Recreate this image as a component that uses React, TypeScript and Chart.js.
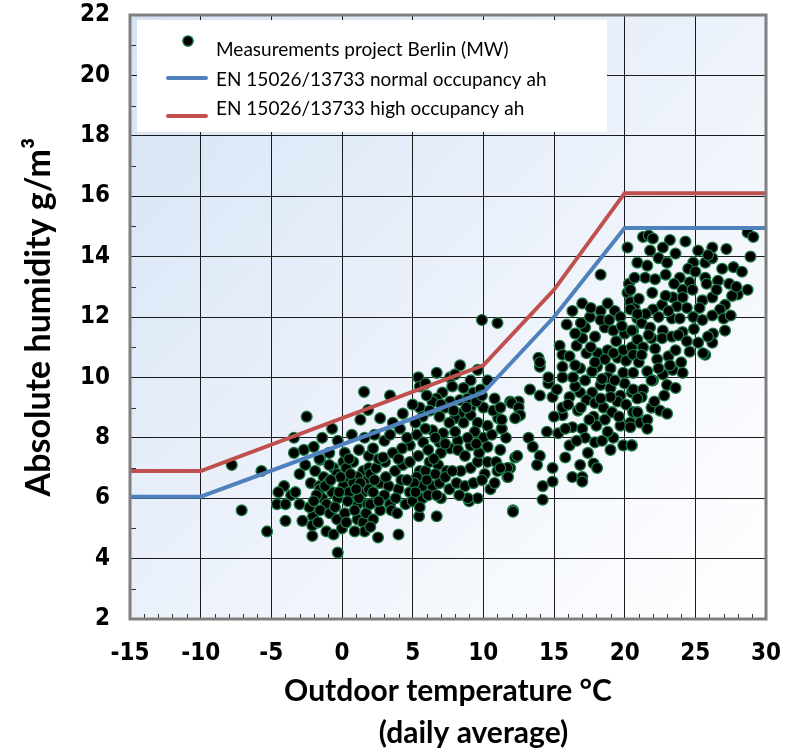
import React, { useEffect, useRef } from 'react';
import { Chart, registerables } from 'chart.js';

Chart.register(...registerables);

const X_MIN = -15;
const X_MAX = 30;
const Y_MIN = 2;
const Y_MAX = 22;

const seriesLabels = [
  'Measurements project Berlin (MW)',
  'EN 15026/13733 normal occupancy ah',
  'EN 15026/13733 high occupancy ah',
];

const normalTemp = [-15, -10, 10, 15, 20, 30];
const normalAh = [6.05, 6.05, 9.5, 12.0, 14.95, 14.95];
const highTemp = [-15, -10, 10, 15, 20, 30];
const highAh = [6.9, 6.9, 10.4, 12.9, 16.1, 16.1];

const xTitle = ['Outdoor temperature °C', '       (daily average)'];
const yTitle = 'Absolute humidity g/m³';

// [outdoor temperature °C, absolute humidity g/m³]
const measurements: [number, number][] = [
  [-7.8, 7.1], [-7.1, 5.6], [-5.7, 6.9], [-5.3, 4.9], [-2.5, 8.7], [-3.4, 8.0], [-2.7, 7.6],
  [-4.1, 6.4], [-4.5, 6.2], [-3.6, 6.1], [-3.3, 6.2], [-4.6, 5.8], [-4.0, 5.8], [-3.0, 5.8],
  [-4.0, 5.25], [-2.8, 5.25], [-3.0, 6.8], [-2.2, 6.5], [-1.6, 6.4], [-3.4, 7.5],
  [-2.05, 5.4], [-2.1, 5.1], [-2.1, 4.75], [-1.1, 4.9], [-0.6, 4.8], [-0.3, 4.2], [-2.3, 5.7],
  [-1.55, 7.27], [-0.6, 7.0], [0.1, 7.2], [0.8, 7.2], [1.5, 6.9], [-1.3, 6.7], [-0.35, 6.8],
  [0.4, 6.6], [1.1, 6.7], [1.8, 6.6], [-1.55, 6.3], [-0.7, 6.2], [0.1, 6.4], [0.8, 6.5],
  [1.4, 6.2], [-1.4, 6.0], [-1.1, 5.8], [-0.3, 6.0], [0.7, 6.0], [1.1, 5.8], [1.5, 6.2],
  [-1.55, 5.6], [-0.85, 5.5], [-0.35, 5.3], [0.2, 5.5], [1.1, 5.3], [1.5, 5.2],
  [-1.9, 6.9], [-1.0, 6.5], [-0.1, 6.7], [0.5, 6.2], [1.2, 6.0], [1.9, 6.3], [-0.5, 5.7],
  [0.4, 5.9], [-1.8, 6.1], [0.9, 5.6], [1.8, 5.8], [1.3, 6.5], [-0.9, 7.1], [0.3, 7.0],
  [1.9, 7.0], [-2.0, 5.9], [0.0, 5.0], [1.6, 4.9],
  [-0.2, 6.2], [0.6, 6.8], [1.0, 6.3], [-1.2, 6.4], [0.3, 5.2], [-0.8, 6.6], [1.7, 5.5],
  [-1.7, 5.2], [0.9, 4.9],
  [-2.0, 7.7], [-1.4, 8.0], [-0.9, 7.5], [-0.3, 7.9], [0.2, 7.5], [0.7, 8.1], [1.2, 7.6],
  [1.6, 8.0], [1.9, 7.4], [-2.6, 7.1], [-1.6, 7.3], [0.5, 7.3], [2.3, 8.1], [3.0, 7.9],
  [3.6, 8.5], [4.3, 8.8], [1.3, 8.6], [-0.7, 8.3], [1.56, 9.52], [1.84, 8.92], [3.4, 9.4],
  [2.55, 4.7], [4.0, 4.8], [5.45, 5.4], [6.7, 5.4], [9.0, 5.9], [12.1, 5.6], [2.2, 5.3], [2.0, 5.05],
  [2.2, 6.2], [2.7, 6.5], [3.3, 6.4], [3.4, 5.8], [2.7, 5.6], [3.5, 5.6], [4.0, 6.3], [4.5, 5.8],
  [4.8, 6.2], [5.0, 5.9], [5.7, 6.0], [5.7, 6.4], [6.4, 6.4], [6.9, 6.5], [7.6, 6.3], [8.1, 6.5],
  [8.7, 6.4], [9.3, 6.5], [9.6, 6.0], [10.1, 6.8], [10.5, 6.3], [11.0, 6.9], [11.7, 6.7], [11.9, 7.0],
  [3.05, 7.2], [3.75, 6.9], [4.3, 7.1], [5.5, 6.9], [5.9, 6.9], [6.2, 7.2], [6.8, 7.1], [7.4, 6.9],
  [9.1, 7.0], [9.6, 7.2], [10.3, 7.2], [4.8, 7.2], [5.3, 6.7], [6.6, 6.8], [7.3, 6.7], [2.0, 5.8],
  [2.0, 6.8], [2.4, 7.0], [3.0, 6.1], [3.9, 5.5], [4.2, 6.6], [5.1, 6.5], [5.5, 5.7], [6.1, 6.1],
  [7.0, 6.0], [8.4, 6.9], [8.9, 6.0], [10.8, 6.5], [2.6, 5.9],
  [2.3, 6.6], [2.6, 7.3], [3.1, 6.7], [3.8, 6.0], [4.6, 6.6], [5.2, 6.2], [6.0, 6.6], [6.7, 6.1],
  [7.8, 6.9], [8.3, 6.1], [9.9, 6.6], [10.9, 7.2],
  [8.35, 10.4], [5.4, 10.0], [6.7, 10.15], [7.65, 10.0], [9.1, 9.9], [9.6, 10.25], [10.3, 9.9],
  [5.5, 9.7], [7.1, 9.5], [7.8, 9.7], [8.6, 9.65], [9.3, 9.5], [6.7, 9.3], [6.4, 9.2], [7.65, 9.2],
  [8.35, 9.25], [9.1, 9.0], [10.0, 9.0], [10.8, 9.3], [11.9, 9.2], [12.5, 9.2], [5.5, 9.0],
  [5.7, 8.7], [8.35, 8.8], [9.1, 8.75], [8.0, 8.65], [8.6, 8.5], [9.6, 8.5], [10.3, 8.4],
  [11.05, 8.65], [11.3, 8.3], [12.4, 8.7], [2.7, 8.65], [4.1, 8.3], [6.4, 8.25], [7.15, 8.15],
  [5.3, 8.1], [5.75, 7.85], [6.9, 7.85], [6.1, 7.6], [4.8, 7.75], [7.65, 7.65], [8.2, 7.9],
  [9.1, 7.75], [10.0, 8.0], [10.6, 8.1], [8.2, 7.6], [12.25, 7.35], [2.2, 7.65], [2.9, 7.35],
  [4.25, 7.65], [3.6, 7.5],
  [6.0, 9.4], [7.3, 9.0], [8.9, 9.3], [9.8, 9.6], [6.9, 8.7], [7.6, 8.5], [9.4, 8.2], [5.2, 8.5],
  [4.6, 8.0], [3.4, 8.1], [7.0, 7.5], [8.7, 7.4], [9.7, 7.5], [10.3, 7.7], [5.4, 7.4], [6.5, 7.3],
  [11.2, 7.6], [4.0, 7.3], [5.9, 9.8], [8.0, 10.1],
  [6.2, 8.9], [7.0, 9.1], [7.9, 8.9], [8.8, 9.0], [9.5, 9.2], [6.6, 8.0], [7.3, 7.8], [8.0, 8.2],
  [8.9, 8.0], [9.5, 7.8], [5.9, 8.3], [10.7, 8.9], [11.6, 8.0], [9.9, 9.4], [5.0, 9.1],
  [9.9, 11.9], [11.0, 11.8], [13.3, 9.6], [14.0, 9.4], [14.9, 9.35], [14.6, 9.8], [13.9, 10.65],
  [14.0, 10.35], [12.0, 9.15], [12.5, 9.0], [12.6, 8.75], [12.25, 8.65], [11.3, 8.3], [11.2, 9.0],
  [15.6, 8.75], [15.6, 9.0], [15.3, 8.15], [16.1, 9.35], [16.85, 9.5], [17.7, 9.5], [18.3, 9.75],
  [19.0, 9.65], [19.7, 9.4], [20.5, 9.5], [17.3, 9.25], [17.9, 9.15], [18.5, 9.0], [19.1, 8.85],
  [17.8, 8.7], [18.6, 8.6], [19.7, 8.4], [20.4, 8.5], [20.9, 8.8], [16.3, 8.35], [17.0, 8.3],
  [15.8, 8.3], [17.2, 8.0], [17.9, 7.85], [18.4, 7.9], [19.2, 8.0], [19.9, 7.75], [20.5, 7.75],
  [16.1, 7.75], [15.8, 7.35], [16.85, 7.1], [17.8, 7.15], [18.05, 7.0], [14.0, 7.4], [13.8, 7.1],
  [14.9, 7.0], [16.3, 6.7], [17.0, 6.7], [17.0, 6.55], [14.9, 6.55], [14.2, 6.4], [14.2, 5.95],
  [12.1, 5.55], [12.4, 7.4], [11.7, 7.0], [11.75, 6.7], [11.2, 7.0], [11.3, 8.6],
  [16.5, 9.7], [17.2, 9.9], [19.5, 9.2], [18.0, 8.4], [16.7, 8.9], [20.1, 9.1], [19.0, 9.35], [16.0, 9.1],
  [16.9, 9.0], [17.5, 8.6], [18.3, 9.3], [19.6, 8.7], [20.0, 9.8], [18.8, 8.2], [16.6, 7.9],
  [17.4, 7.5], [19.0, 7.6], [15.2, 9.6], [15.0, 8.7], [14.5, 8.2], [13.2, 8.0], [13.5, 7.7],
  [20.2, 14.3], [18.3, 13.4], [17.0, 12.45], [18.3, 12.2], [18.8, 12.45], [19.3, 12.2], [17.55, 12.0],
  [15.9, 11.75], [17.2, 11.65], [17.9, 11.35], [18.6, 11.65], [19.2, 11.55], [20.0, 11.45],
  [20.6, 11.55], [20.2, 12.8], [20.4, 12.5], [20.7, 12.3], [15.4, 11.05], [15.6, 10.75],
  [16.6, 11.05], [16.1, 10.7], [17.3, 10.8], [18.1, 10.8], [18.8, 10.9], [19.5, 10.65], [19.9, 10.9],
  [20.5, 11.0], [14.0, 10.5], [15.6, 10.35], [16.85, 10.3], [18.05, 10.35], [19.0, 10.3],
  [19.9, 10.15], [14.6, 10.0], [15.6, 10.0], [16.35, 10.0], [18.8, 10.0],
  [17.6, 11.0], [19.4, 11.2], [16.5, 10.4], [17.7, 10.2], [18.4, 9.95], [19.3, 9.9], [20.1, 10.55],
  [17.0, 11.3], [18.3, 11.9], [19.7, 12.0], [16.3, 12.2], [20.3, 13.1], [16.5, 11.45],
  [17.6, 12.3], [18.9, 11.9], [19.8, 11.7], [16.9, 11.8], [18.6, 10.6], [19.2, 10.8], [17.9, 10.5],
  [21.3, 14.65], [21.7, 14.7], [23.2, 14.55], [24.3, 14.5], [28.7, 14.8], [29.1, 14.65], [28.9, 14.0],
  [21.8, 14.2], [22.7, 14.3], [22.4, 13.95], [20.9, 13.8], [21.6, 13.7], [23.0, 13.8], [24.85, 13.8],
  [25.7, 13.8], [26.2, 13.95], [26.2, 14.3], [25.9, 14.05], [26.9, 13.6], [27.7, 13.65],
  [21.45, 13.3], [22.15, 13.25], [23.9, 13.3], [24.6, 13.15], [25.7, 13.3], [25.8, 13.1],
  [24.1, 12.9], [24.8, 12.9], [23.4, 12.65], [24.1, 12.65], [25.5, 12.55], [26.2, 12.65],
  [21.95, 12.8], [28.0, 12.75], [28.7, 12.9], [20.4, 12.9], [22.65, 12.4], [22.0, 12.25],
  [23.7, 12.35], [27.1, 12.4], [26.75, 12.25], [20.9, 11.95], [21.2, 11.8], [22.4, 12.0],
  [23.35, 11.95], [23.9, 11.95], [24.85, 12.0], [25.5, 11.9], [26.2, 12.05], [27.0, 11.95],
  [21.8, 11.65], [22.7, 11.55], [24.1, 11.5], [22.65, 11.3], [23.35, 11.35], [23.8, 11.4],
  [26.25, 11.45], [26.2, 11.15], [20.9, 11.25], [20.5, 11.55], [25.2, 11.15], [22.15, 10.95],
  [24.6, 10.85], [25.7, 10.75], [23.1, 10.7], [20.6, 10.75], [23.4, 10.25], [24.1, 10.15],
  [21.6, 10.2], [22.7, 10.1], [20.6, 10.15], [20.4, 12.25],
  [21.0, 12.6], [21.5, 12.1], [22.9, 12.7], [23.1, 12.2], [21.3, 11.0], [21.9, 11.3], [22.3, 10.6],
  [23.6, 10.9], [24.4, 11.2], [21.0, 10.5], [22.0, 9.9], [24.5, 13.6], [23.5, 13.1], [25.3, 12.3],
  [24.4, 12.3], [25.0, 13.5], [22.9, 13.4], [26.6, 13.2], [27.4, 13.1], [27.6, 12.7], [28.3, 13.5],
  [20.9, 12.1], [21.7, 11.4], [22.4, 10.3], [23.2, 10.4], [24.0, 10.5], [21.2, 10.75], [21.9, 9.0],
  [22.8, 9.4], [20.7, 13.3], [23.6, 14.1], [22.0, 14.6], [25.2, 14.2], [27.2, 14.25], [26.5, 12.9],
  [27.9, 13.0], [27.1, 11.55], [25.9, 11.35], [24.9, 11.6], [27.5, 12.05], [25.55, 10.8],
  [20.6, 9.6], [21.3, 9.6], [21.2, 9.35], [23.0, 9.75], [23.6, 9.65], [20.6, 8.85], [20.9, 8.85],
  [21.1, 8.5], [21.6, 8.6], [21.6, 8.3], [22.5, 8.9], [23.0, 8.8], [20.5, 7.75], [20.4, 8.35],
  [22.1, 9.2], [21.9, 9.9], [20.9, 9.3],
];

const TICK_FONT = "'Liberation Sans Narrow', 'DejaVu Sans Condensed', 'Liberation Sans', sans-serif";
const TITLE_FONT = "Lato, 'Open Sans', sans-serif";

const chartDecor = {
  id: 'chartDecor',
  beforeDraw(chart: any) {
    const { ctx, chartArea: a } = chart;
    ctx.save();
    const g = ctx.createLinearGradient(a.left, a.top, a.right, a.bottom);
    g.addColorStop(0, '#d5e3f5');
    g.addColorStop(0.55, '#eef3fb');
    g.addColorStop(1, '#ffffff');
    ctx.fillStyle = g;
    ctx.fillRect(a.left, a.top, a.right - a.left, a.bottom - a.top);
    ctx.restore();
  },
  afterDatasetsDraw(chart: any) {
    const { ctx, chartArea: a } = chart;
    ctx.save();
    const bx = a.left + 7;
    const by = a.top + 5;
    ctx.fillStyle = '#ffffff';
    ctx.fillRect(bx, by, 470, 112);
    const ds = chart.data.datasets;
    ctx.font = `19px ${TITLE_FONT}`;
    ctx.textBaseline = 'middle';
    ctx.textAlign = 'left';
    ctx.beginPath();
    ctx.arc(bx + 51, by + 21, 5.2, 0, Math.PI * 2);
    ctx.fillStyle = '#000000';
    ctx.fill();
    ctx.lineWidth = 1.3;
    ctx.strokeStyle = ds[0].borderColor;
    ctx.stroke();
    ctx.fillStyle = '#000000';
    ctx.fillText(ds[0].label, bx + 79, by + 30);
    const lineY = [by + 58, by + 96];
    const textY = [by + 60, by + 89];
    for (let i = 1; i <= 2; i++) {
      ctx.beginPath();
      ctx.strokeStyle = ds[i].borderColor;
      ctx.lineWidth = 4;
      ctx.lineCap = 'round';
      ctx.moveTo(bx + 31, lineY[i - 1]);
      ctx.lineTo(bx + 69, lineY[i - 1]);
      ctx.stroke();
      ctx.fillStyle = '#000000';
      ctx.fillText(ds[i].label, bx + 79, textY[i - 1]);
    }
    ctx.restore();
  },
  afterDraw(chart: any) {
    const { ctx, chartArea: a, scales } = chart;
    const xs = scales.x;
    const ys = scales.y;
    ctx.save();
    ctx.strokeStyle = '#333333';
    ctx.lineWidth = 1;
    ctx.beginPath();
    for (let v = X_MIN + 1; v < X_MAX; v++) {
      if (v % 5 === 0) continue;
      const px = Math.round(xs.getPixelForValue(v)) + 0.5;
      ctx.moveTo(px, a.bottom);
      ctx.lineTo(px, a.bottom - 5);
    }
    for (let v = Y_MIN + 1; v < Y_MAX; v += 2) {
      const py = Math.round(ys.getPixelForValue(v)) + 0.5;
      ctx.moveTo(a.left, py);
      ctx.lineTo(a.left + 6, py);
    }
    ctx.stroke();
    ctx.strokeStyle = '#7f7f7f';
    ctx.lineWidth = 3;
    ctx.strokeRect(a.left, a.top, a.right - a.left, a.bottom - a.top);
    ctx.restore();
  },
};

export default function App() {
  const canvasRef = useRef<HTMLCanvasElement | null>(null);

  useEffect(() => {
    const canvas = canvasRef.current;
    if (!canvas) return;
    const chart = new Chart(canvas, {
      type: 'scatter',
      data: {
        datasets: [
          {
            label: seriesLabels[0],
            data: measurements.map(([x, y]) => ({ x, y })),
            backgroundColor: '#000000',
            borderColor: '#1d7a45',
            borderWidth: 1.3,
            pointRadius: 5.4,
            showLine: false,
            order: 2,
          },
          {
            label: seriesLabels[1],
            data: normalTemp.map((x, i) => ({ x, y: normalAh[i] })),
            borderColor: '#4f81bd',
            backgroundColor: '#4f81bd',
            borderWidth: 4,
            pointRadius: 0,
            showLine: true,
            order: 1,
          },
          {
            label: seriesLabels[2],
            data: highTemp.map((x, i) => ({ x, y: highAh[i] })),
            borderColor: '#c0504d',
            backgroundColor: '#c0504d',
            borderWidth: 4,
            pointRadius: 0,
            showLine: true,
            order: 0,
          },
        ],
      },
      options: {
        animation: false,
        responsive: false,
        devicePixelRatio: 1,
        layout: { padding: { left: 0, right: 42, top: 15, bottom: 0 } },
        plugins: {
          legend: { display: false },
          tooltip: { enabled: false },
        },
        scales: {
          x: {
            type: 'linear',
            min: X_MIN,
            max: X_MAX,
            afterFit: (s: any) => { s.height = 135; },
            ticks: {
              stepSize: 5,
              padding: 0,
              color: '#000000',
              font: { family: TICK_FONT, size: 24, weight: 'bold' },
            },
            grid: { color: '#1a1a1a', lineWidth: 1, drawTicks: true, tickLength: 20, tickColor: 'rgba(0,0,0,0)' },
            border: { display: false },
            title: {
              display: true,
              text: xTitle,
              color: '#000000',
              padding: { top: 0, bottom: 0 },
              font: { family: TITLE_FONT, size: 30, weight: 'bold', lineHeight: 1.4 },
            },
          },
          y: {
            type: 'linear',
            min: Y_MIN,
            max: Y_MAX,
            afterFit: (s: any) => { s.width = 130; },
            ticks: {
              stepSize: 2,
              padding: 0,
              color: '#000000',
              font: { family: TICK_FONT, size: 24, weight: 'bold' },
            },
            grid: { color: '#1a1a1a', lineWidth: 1, drawTicks: true, tickLength: 20, tickColor: 'rgba(0,0,0,0)' },
            border: { display: false },
            title: {
              display: true,
              text: yTitle,
              color: '#000000',
              padding: { top: 19, bottom: 0 },
              font: { family: TITLE_FONT, size: 34, weight: 'bold', lineHeight: 1.2 },
            },
          },
        },
      },
      plugins: [chartDecor],
    });
    return () => chart.destroy();
  }, []);

  return (
    <div style={{ position: 'absolute', left: 0, top: 0, width: 808, height: 754, background: '#ffffff' }}>
      <canvas ref={canvasRef} width={808} height={754} />
    </div>
  );
}
